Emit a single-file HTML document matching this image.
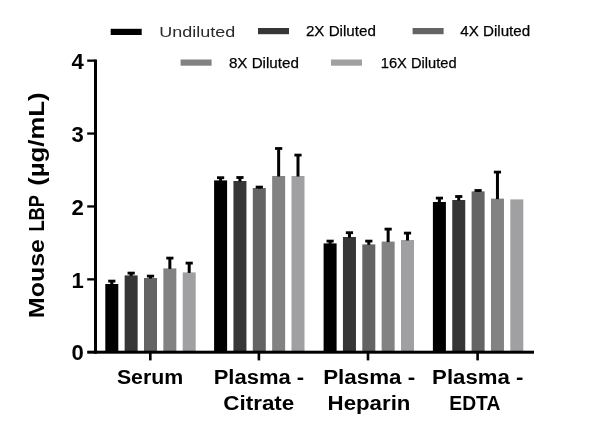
<!DOCTYPE html>
<html lang="en">
<head>
<meta charset="utf-8">
<title>Mouse LBP dilution linearity</title>
<style>
html,body{margin:0;padding:0;background:#fff;}
body{width:600px;height:436px;overflow:hidden;}
svg{display:block;}
.b{font-family:"Liberation Sans",sans-serif;font-weight:700;fill:#000;}
.r{font-family:"Liberation Sans",sans-serif;font-weight:400;fill:#000;stroke:#000;stroke-width:0.25px;}
</style>
</head>
<body>
<svg width="600" height="436" viewBox="0 0 600 436">
<rect x="0" y="0" width="600" height="436" fill="#ffffff"/>

<rect x="105.30" y="284.00" width="13.0" height="68.20" fill="#000000"/>
<rect x="110.30" y="281.00" width="3.0" height="3.50" fill="#000"/>
<rect x="108.20" y="279.70" width="7.2" height="2.8" fill="#000"/>
<rect x="124.65" y="275.40" width="13.0" height="76.80" fill="#363636"/>
<rect x="129.65" y="273.00" width="3.0" height="2.90" fill="#000"/>
<rect x="127.55" y="271.70" width="7.2" height="2.8" fill="#000"/>
<rect x="144.00" y="278.00" width="13.0" height="74.20" fill="#646464"/>
<rect x="149.00" y="276.00" width="3.0" height="2.50" fill="#000"/>
<rect x="146.90" y="274.70" width="7.2" height="2.8" fill="#000"/>
<rect x="163.35" y="268.40" width="13.0" height="83.80" fill="#828282"/>
<rect x="168.35" y="258.00" width="3.0" height="10.90" fill="#000"/>
<rect x="166.25" y="256.70" width="7.2" height="2.8" fill="#000"/>
<rect x="182.70" y="272.40" width="13.0" height="79.80" fill="#a0a0a3"/>
<rect x="187.70" y="263.00" width="3.0" height="9.90" fill="#000"/>
<rect x="185.60" y="261.70" width="7.2" height="2.8" fill="#000"/>
<rect x="214.10" y="180.40" width="13.0" height="171.80" fill="#000000"/>
<rect x="219.10" y="177.60" width="3.0" height="3.30" fill="#000"/>
<rect x="217.00" y="176.30" width="7.2" height="2.8" fill="#000"/>
<rect x="233.45" y="181.00" width="13.0" height="171.20" fill="#363636"/>
<rect x="238.45" y="177.40" width="3.0" height="4.10" fill="#000"/>
<rect x="236.35" y="176.10" width="7.2" height="2.8" fill="#000"/>
<rect x="252.80" y="188.00" width="13.0" height="164.20" fill="#646464"/>
<rect x="257.80" y="187.00" width="3.0" height="1.50" fill="#000"/>
<rect x="255.70" y="185.70" width="7.2" height="2.8" fill="#000"/>
<rect x="272.15" y="176.00" width="13.0" height="176.20" fill="#828282"/>
<rect x="277.15" y="148.40" width="3.0" height="28.10" fill="#000"/>
<rect x="275.05" y="147.10" width="7.2" height="2.8" fill="#000"/>
<rect x="291.50" y="176.00" width="13.0" height="176.20" fill="#a0a0a3"/>
<rect x="296.50" y="155.00" width="3.0" height="21.50" fill="#000"/>
<rect x="294.40" y="153.70" width="7.2" height="2.8" fill="#000"/>
<rect x="323.60" y="243.40" width="13.0" height="108.80" fill="#000000"/>
<rect x="328.60" y="241.00" width="3.0" height="2.90" fill="#000"/>
<rect x="326.50" y="239.70" width="7.2" height="2.8" fill="#000"/>
<rect x="342.95" y="237.00" width="13.0" height="115.20" fill="#363636"/>
<rect x="347.95" y="232.60" width="3.0" height="4.90" fill="#000"/>
<rect x="345.85" y="231.30" width="7.2" height="2.8" fill="#000"/>
<rect x="362.30" y="244.40" width="13.0" height="107.80" fill="#646464"/>
<rect x="367.30" y="241.00" width="3.0" height="3.90" fill="#000"/>
<rect x="365.20" y="239.70" width="7.2" height="2.8" fill="#000"/>
<rect x="381.65" y="241.60" width="13.0" height="110.60" fill="#828282"/>
<rect x="386.65" y="229.00" width="3.0" height="13.10" fill="#000"/>
<rect x="384.55" y="227.70" width="7.2" height="2.8" fill="#000"/>
<rect x="401.00" y="240.00" width="13.0" height="112.20" fill="#a0a0a3"/>
<rect x="406.00" y="233.00" width="3.0" height="7.50" fill="#000"/>
<rect x="403.90" y="231.70" width="7.2" height="2.8" fill="#000"/>
<rect x="432.90" y="202.00" width="13.0" height="150.20" fill="#000000"/>
<rect x="437.90" y="198.00" width="3.0" height="4.50" fill="#000"/>
<rect x="435.80" y="196.70" width="7.2" height="2.8" fill="#000"/>
<rect x="452.25" y="200.00" width="13.0" height="152.20" fill="#363636"/>
<rect x="457.25" y="196.40" width="3.0" height="4.10" fill="#000"/>
<rect x="455.15" y="195.10" width="7.2" height="2.8" fill="#000"/>
<rect x="471.60" y="191.40" width="13.0" height="160.80" fill="#646464"/>
<rect x="476.60" y="190.40" width="3.0" height="1.50" fill="#000"/>
<rect x="474.50" y="189.10" width="7.2" height="2.8" fill="#000"/>
<rect x="490.95" y="198.60" width="13.0" height="153.60" fill="#828282"/>
<rect x="495.95" y="172.00" width="3.0" height="27.10" fill="#000"/>
<rect x="493.85" y="170.70" width="7.2" height="2.8" fill="#000"/>
<rect x="510.30" y="199.40" width="13.0" height="152.80" fill="#a0a0a3"/>
<rect x="94" y="59.5" width="3" height="294.2" fill="#000"/>
<rect x="87.2" y="350.7" width="446.8" height="3" fill="#000"/>
<rect x="87.2" y="278.20" width="8" height="2.3" fill="#000"/>
<rect x="87.2" y="205.30" width="8" height="2.3" fill="#000"/>
<rect x="87.2" y="132.40" width="8" height="2.3" fill="#000"/>
<rect x="87.2" y="59.50" width="8" height="2.3" fill="#000"/>
<rect x="149.00" y="352" width="2.6" height="8.4" fill="#000"/>
<rect x="257.60" y="352" width="2.6" height="8.4" fill="#000"/>
<rect x="366.70" y="352" width="2.6" height="8.4" fill="#000"/>
<rect x="476.30" y="352" width="2.6" height="8.4" fill="#000"/>
<text class="b" x="71.6" y="360.45" font-size="22.2" textLength="12.3" lengthAdjust="spacingAndGlyphs">0</text>
<text class="b" x="71.6" y="287.55" font-size="22.2" textLength="12.3" lengthAdjust="spacingAndGlyphs">1</text>
<text class="b" x="71.6" y="214.65" font-size="22.2" textLength="12.3" lengthAdjust="spacingAndGlyphs">2</text>
<text class="b" x="71.6" y="141.75" font-size="22.2" textLength="12.3" lengthAdjust="spacingAndGlyphs">3</text>
<text class="b" x="71.6" y="68.85" font-size="22.2" textLength="12.3" lengthAdjust="spacingAndGlyphs">4</text>
<g transform="translate(43.9,318.2) rotate(-90)">
<text class="b" x="0" y="0" font-size="22" textLength="79.2" lengthAdjust="spacingAndGlyphs">Mouse</text>
<text class="b" x="86.6" y="0" font-size="22" textLength="36.7" lengthAdjust="spacingAndGlyphs">LBP</text>
<text class="b" x="132.4" y="0" font-size="22" textLength="93.3" lengthAdjust="spacingAndGlyphs">(µg/mL)</text>
</g>
<text class="b" x="116.9" y="384.2" font-size="20.3" textLength="66.3" lengthAdjust="spacingAndGlyphs">Serum</text>
<text class="b" x="213.7" y="384.2" font-size="20.3" textLength="90.5" lengthAdjust="spacingAndGlyphs">Plasma -</text>
<text class="b" x="223.3" y="409.9" font-size="20.3" textLength="71.0" lengthAdjust="spacingAndGlyphs">Citrate</text>
<text class="b" x="323.2" y="384.2" font-size="20.3" textLength="92.0" lengthAdjust="spacingAndGlyphs">Plasma -</text>
<text class="b" x="327.6" y="409.9" font-size="20.3" textLength="82.8" lengthAdjust="spacingAndGlyphs">Heparin</text>
<text class="b" x="432.1" y="384.2" font-size="20.3" textLength="91.3" lengthAdjust="spacingAndGlyphs">Plasma -</text>
<text class="b" x="449.3" y="409.9" font-size="20.3" textLength="51.0" lengthAdjust="spacingAndGlyphs">EDTA</text>
<rect x="110.7" y="28.8" width="31" height="6.2" fill="#000000"/>
<rect x="258.0" y="28.0" width="31" height="6.2" fill="#363636"/>
<rect x="412.6" y="28.0" width="31" height="6.2" fill="#646464"/>
<rect x="180.6" y="59.5" width="31" height="6.2" fill="#828282"/>
<rect x="331.0" y="59.5" width="31" height="6.2" fill="#a0a0a3"/>
<text class="r" x="159.3" y="37.2" font-size="15.3" textLength="76" lengthAdjust="spacingAndGlyphs" style="fill:#2a2a2a;stroke:none">Undiluted</text>
<text class="r" x="305.9" y="36.1" font-size="15.5" textLength="70.0" lengthAdjust="spacingAndGlyphs">2X Diluted</text>
<text class="r" x="460.2" y="36.3" font-size="15.5" textLength="70.0" lengthAdjust="spacingAndGlyphs">4X Diluted</text>
<text class="r" x="228.9" y="67.9" font-size="15.5" textLength="70.0" lengthAdjust="spacingAndGlyphs">8X Diluted</text>
<text class="r" x="380.8" y="67.9" font-size="15.5" textLength="75.8" lengthAdjust="spacingAndGlyphs">16X Diluted</text>
</svg>
</body>
</html>
